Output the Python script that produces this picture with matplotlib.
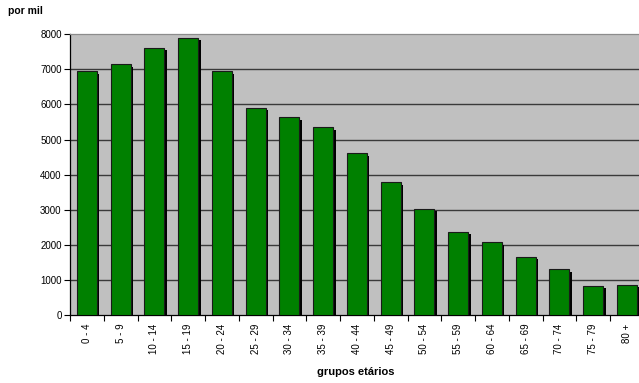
import matplotlib
matplotlib.use("Agg")
import matplotlib.pyplot as plt
import matplotlib.transforms as mtransforms
import numpy as np

plt.rcParams['font.family'] = ['Liberation Sans', 'DejaVu Sans']

grupos = ["0 - 4", "5 - 9", "10 - 14", "15 - 19", "20 - 24", "25 - 29", "30 - 34",
          "35 - 39", "40 - 44", "45 - 49", "50 - 54", "55 - 59", "60 - 64",
          "65 - 69", "70 - 74", "75 - 79", "80 +"]
valores = [6950, 7150, 7620, 7900, 6950, 5900, 5635, 5350, 4610, 3785,
           3030, 2370, 2075, 1655, 1305, 830, 858]

W, H = 639, 383
fig = plt.figure(figsize=(W / 100, H / 100), dpi=100)
x0, x1 = 70, 643.75
y_top, y_bot = 34.3, 315
ax = fig.add_axes([x0 / W, 1 - y_bot / H, (x1 - x0) / W, (y_bot - y_top) / H])
ax.set_facecolor('#C0C0C0')

x = np.arange(len(grupos))
bw = 0.59

# drop shadow behind each bar
shadow = mtransforms.offset_copy(ax.transData, fig=fig, x=2.5, y=-2.5, units='dots')
ax.bar(x, valores, width=bw, color='black', linewidth=0, transform=shadow, zorder=2)
ax.bar(x, valores, width=bw, color='#008000', edgecolor='#1a1a1a', linewidth=0.8, zorder=3)

ax.set_xlim(-0.5, len(grupos) - 0.5)
ax.set_ylim(0, 8000)
ax.set_yticks(np.arange(0, 8001, 1000))
ax.set_yticklabels([str(v) for v in range(0, 8001, 1000)], fontsize=7)
for v in range(1000, 8000, 1000):
    ax.axhline(v, color='#3a3a3a', linewidth=1.0, zorder=1)

ax.set_xticks(x)
ax.set_xticklabels(grupos, rotation=90, fontsize=7)
ax.set_xticks(np.arange(-0.5, len(grupos), 1), minor=True)
ax.tick_params(axis='x', which='major', length=0, pad=6)
ax.tick_params(axis='x', which='minor', length=4, width=0.8, color='black')
ax.tick_params(axis='y', length=4, width=0.8, pad=2, color='black')

for side in ['right']:
    ax.spines[side].set_visible(False)
ax.spines['top'].set_color('#8c8c8c')
ax.spines['left'].set_color('black')
ax.spines['bottom'].set_color('black')
for s in ax.spines.values():
    s.set_linewidth(0.9)

fig.text(8 / W, 1 - 11 / H, "por mil", fontsize=7.5, fontweight='bold', va='center', ha='left')
fig.text(356 / W, 1 - 372 / H, "grupos etários", fontsize=8, fontweight='bold', va='center', ha='center')

fig.savefig("out.png", dpi=100)
